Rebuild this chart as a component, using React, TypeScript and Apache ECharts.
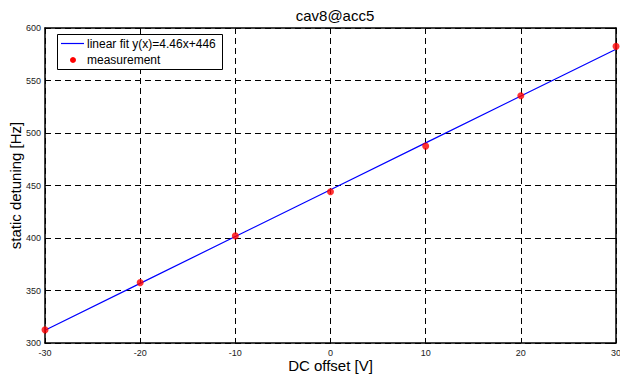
import React, { useEffect, useRef } from "react";
import * as echarts from "echarts";

const xValues = [-30, -20, -10, 0, 10, 20, 30];
const measured = [312.5, 357.5, 402, 444, 487.5, 535.5, 582.5];
const fitValues = [312.2, 356.8, 401.4, 446, 490.6, 535.2, 579.8];
const titleText = "cav8@acc5";
const xName = "DC offset [V]";
const yName = "static detuning [Hz]";
const fitLabel = "linear fit y(x)=4.46x+446";
const measLabel = "measurement";

const FONT = "'Liberation Sans', Arial, Helvetica, sans-serif";

export default function App() {
  const ref = useRef<HTMLDivElement>(null);
  useEffect(() => {
    if (!ref.current) return;
    const chart = echarts.init(ref.current, null, { renderer: "svg" });
    const axisCommon = {
      type: "value" as const,
      axisLine: { show: true, onZero: false, lineStyle: { color: "#000", width: 1.5 } },
      axisTick: { show: true, inside: true, length: 5, lineStyle: { color: "#000", width: 1 } },
    };
    chart.setOption({
      animation: false,
      backgroundColor: "#fff",
      textStyle: { fontFamily: FONT },
      title: {
        text: titleText,
        left: 330,
        textAlign: "center",
        top: 3,
        textStyle: { fontFamily: FONT, fontSize: 15, fontWeight: "normal", color: "#000" },
      },
      grid: { left: 45, right: 4, top: 28, bottom: 35, show: false, outerBoundsMode: "none", containLabel: false },
      xAxis: [
        {
          ...axisCommon,
          position: "bottom",
          min: -30,
          max: 30,
          interval: 10,
          name: xName,
          nameLocation: "middle",
          nameGap: 15,
          nameMoveOverlap: false,
          nameTextStyle: { fontFamily: FONT, fontSize: 15, color: "#000" },
          axisLabel: { fontFamily: FONT, fontSize: 9, color: "#222", margin: 5 },
          splitLine: { show: true, lineStyle: { color: "#000", type: [6, 4], width: 1 } },
        },
        {
          ...axisCommon,
          position: "top",
          min: -30,
          max: 30,
          interval: 10,
          axisLabel: { show: false },
          splitLine: { show: false },
        },
      ],
      yAxis: [
        {
          ...axisCommon,
          position: "left",
          min: 300,
          max: 600,
          interval: 50,
          name: yName,
          nameLocation: "middle",
          nameGap: 22,
          nameMoveOverlap: false,
          nameTextStyle: { fontFamily: FONT, fontSize: 15, color: "#000" },
          axisLabel: { fontFamily: FONT, fontSize: 9, color: "#222", margin: 4 },
          splitLine: { show: true, lineStyle: { color: "#000", type: [6, 4], width: 1 } },
        },
        {
          ...axisCommon,
          position: "right",
          min: 300,
          max: 600,
          interval: 50,
          axisLabel: { show: false },
          splitLine: { show: false },
        },
      ],
      series: [
        {
          name: fitLabel,
          type: "line",
          data: xValues.map((x, i) => [x, fitValues[i]]),
          showSymbol: false,
          lineStyle: { color: "#0000ff", width: 1.2 },
          z: 3,
        },
        {
          name: measLabel,
          type: "scatter",
          data: xValues.map((x, i) => [x, measured[i]]),
          symbol: "circle",
          symbolSize: 7,
          itemStyle: { color: "#ff0000" },
          z: 4,
        },
      ],
      graphic: [
        {
          type: "rect",
          left: 57,
          top: 34,
          z: 100,
          shape: { x: 0, y: 0, width: 165, height: 35 },
          style: { fill: "#fff", stroke: "#000", lineWidth: 1 },
        },
        {
          type: "line",
          z: 101,
          shape: { x1: 61, y1: 43.5, x2: 84, y2: 43.5 },
          style: { stroke: "#0000ff", lineWidth: 1.2 },
        },
        {
          type: "text",
          z: 101,
          style: { text: fitLabel, x: 87, y: 43.5, verticalAlign: "middle", font: `12px ${FONT}`, fill: "#000" },
        },
        {
          type: "circle",
          z: 101,
          shape: { cx: 73, cy: 60, r: 3 },
          style: { fill: "#ff0000" },
        },
        {
          type: "text",
          z: 101,
          style: { text: measLabel, x: 87, y: 60, verticalAlign: "middle", font: `12px ${FONT}`, fill: "#000" },
        },
      ],
    });
    return () => chart.dispose();
  }, []);
  return <div ref={ref} style={{ width: 620, height: 378, position: "absolute", left: 0, top: 0 }} />;
}
